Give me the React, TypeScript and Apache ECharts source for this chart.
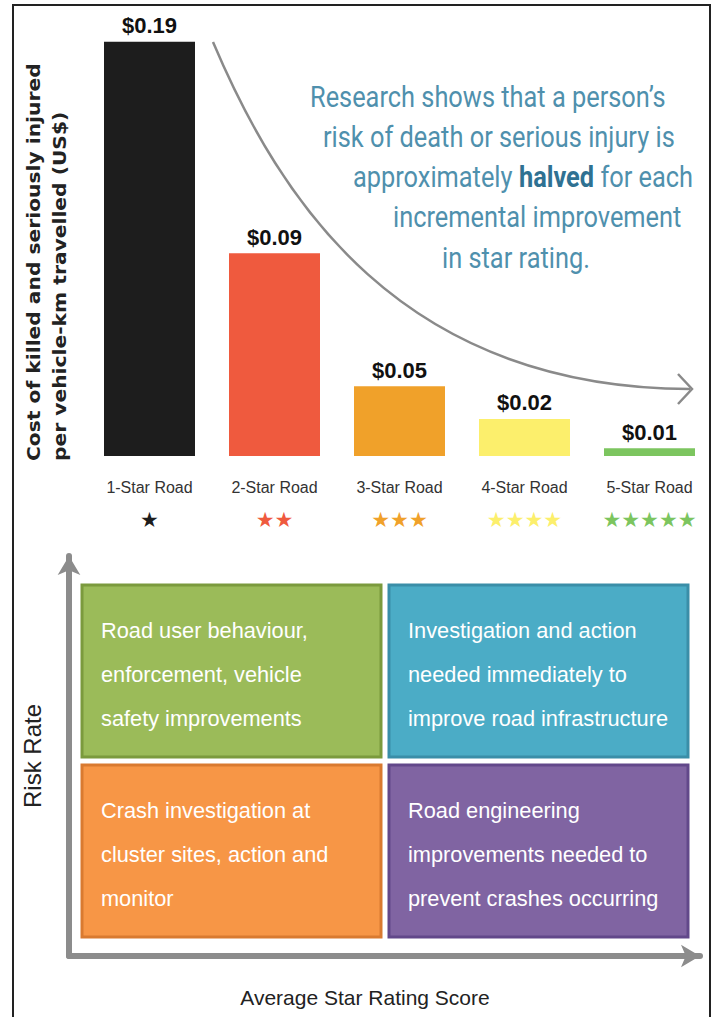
import React, { useEffect, useRef } from 'react';
import * as echarts from 'echarts';

// ---- Data -------------------------------------------------------------
const roadCategories = ['1-Star Road', '2-Star Road', '3-Star Road', '4-Star Road', '5-Star Road'];
// values printed above the bars (US$ per vehicle-km)
const costPerVkt = [0.19, 0.09, 0.05, 0.02, 0.01];
// bar heights as drawn in the infographic (not to scale with the printed values)
const drawnBarHeights = [0.19, 0.093, 0.032, 0.017, 0.0035];
const starCounts = [1, 2, 3, 4, 5];
const barColors = ['#1d1d1d', '#ef5a3e', '#f0a12a', '#fcef6c', '#7cc55f'];

const yTitleLines = ['Cost of killed and seriously injured', 'per vehicle-km travelled (US$)'];
const annotationLines = [
  'Research shows that a person\u2019s',
  'risk of death or serious injury is',
  'approximately {b|halved} for each',
  'incremental improvement',
  'in star rating.',
];

const matrixXName = 'Average Star Rating Score';
const matrixYName = 'Risk Rate';
const matrixCols = [0, 1, 0, 1];
const matrixRows = [1, 1, 0, 0];
const matrixTexts = [
  'Road user behaviour,\nenforcement, vehicle\nsafety improvements',
  'Investigation and action\nneeded immediately to\nimprove road infrastructure',
  'Crash investigation at\ncluster sites, action and\nmonitor',
  'Road engineering\nimprovements needed to\nprevent crashes occurring',
];
const matrixFills = ['#9bbb59', '#4bacc6', '#f79646', '#8064a2'];
const matrixBorders = ['#7b9a3d', '#3a8ea8', '#d97a30', '#62488a'];

// ---- Layout helpers ---------------------------------------------------
function makeMeasure() {
  const ctx = document.createElement('canvas').getContext('2d') as CanvasRenderingContext2D;
  return (text: string, font: string) => {
    ctx.font = font;
    return ctx.measureText(text).width;
  };
}

export default function App() {
  const ref = useRef<HTMLDivElement>(null);

  useEffect(() => {
    if (!ref.current) return;
    const chart = echarts.init(ref.current, null, { renderer: 'svg' });
    const measure = makeMeasure();

    const annoFont = 30;
    const annoFamily = 'Roboto';
    const annoScale = 356 / measure(annotationLines[0], `${annoFont}px ${annoFamily}`);
    const annoX = [310, 323, 353, 393, 442];
    const annoY = [97, 137, 177, 217, 258];

    const yTitleFamily = 'DejaVu Sans';
    const yTitleSize = 17;
    const yTitleScale = 398 / measure(yTitleLines[0], `bold ${yTitleSize}px "${yTitleFamily}"`);

    const qFont = 23;
    const qFamily = 'Liberation Sans';
    const qScale = 207 / measure('Road user behaviour,', `${qFont}px "${qFamily}"`);

    const richStars: Record<string, any> = {
      name: { fontSize: 16, fontFamily: 'Liberation Sans', color: '#333', lineHeight: 22 },
    };
    barColors.forEach((c, i) => {
      richStars['s' + i] = { fontSize: 21, fontFamily: 'DejaVu Sans', color: c, lineHeight: 44 };
    });

    const graphics: any[] = [
      {
        type: 'polyline',
        silent: true,
        shape: { points: [[13, 1017], [13, 5], [710, 5], [710, 1017]] },
        style: { stroke: '#222', lineWidth: 2, fill: null },
      },
      {
        type: 'bezierCurve',
        silent: true,
        shape: { x1: 213, y1: 42, cpx1: 280, cpy1: 200, cpx2: 400, cpy2: 388, x2: 690, y2: 389 },
        style: { stroke: '#8a8a8a', lineWidth: 2.5, fill: null },
      },
      {
        type: 'polyline',
        silent: true,
        shape: { points: [[678, 374], [692, 389], [678, 404]] },
        style: { stroke: '#8a8a8a', lineWidth: 2.5, fill: null },
      },
    ];
    annotationLines.forEach((line, i) => {
      graphics.push({
        type: 'text',
        silent: true,
        x: annoX[i],
        y: annoY[i],
        scaleX: annoScale,
        style: {
          text: line,
          fontSize: annoFont,
          fontFamily: annoFamily,
          fill: '#4f90ad',
          align: 'left',
          verticalAlign: 'middle',
          rich: { b: { fontSize: annoFont, fontFamily: annoFamily, fontWeight: 'bold', fill: '#2f7192' } },
        },
      });
    });
    const yTitleX = [34, 60];
    yTitleLines.forEach((line, i) => {
      graphics.push({
        type: 'text',
        silent: true,
        x: yTitleX[i],
        y: 461,
        rotation: Math.PI / 2,
        scaleX: yTitleScale,
        style: {
          text: line,
          fontSize: yTitleSize,
          fontFamily: yTitleFamily,
          fontWeight: 'bold',
          fill: '#222',
          align: 'left',
          verticalAlign: 'middle',
        },
      });
    });

    const option: any = {
      animation: false,
      backgroundColor: '#ffffff',
      grid: [
        { left: 87, width: 625, top: 20, height: 436 },
        { left: 69, right: 16, top: 556, bottom: 61 },
        { left: 78, right: 24, top: 581, bottom: 76 },
      ],
      xAxis: [
        {
          gridIndex: 0,
          type: 'category',
          data: roadCategories,
          axisLine: { show: false },
          axisTick: { show: false },
          axisLabel: {
            margin: 20,
            interval: 0,
            formatter: (v: string, i: number) => `{name|${v}}\n{s${i}|${'\u2605'.repeat(starCounts[i])}}`,
            rich: richStars,
          },
        },
        {
          gridIndex: 1,
          type: 'value',
          min: 0,
          max: 1,
          name: matrixXName,
          nameLocation: 'middle',
          nameGap: 31,
          nameTextStyle: { fontSize: 21, fontFamily: 'Liberation Sans', color: '#222', padding: [0, 39, 0, 0] },
          axisLine: {
            show: true,
            onZero: false,
            symbol: ['none', 'arrow'],
            symbolSize: [17, 19],
            lineStyle: { color: '#8c8c8c', width: 6 },
          },
          axisTick: { show: false },
          axisLabel: { show: false },
          splitLine: { show: false },
        },
        { gridIndex: 2, type: 'category', data: ['lower', 'higher'], show: false },
      ],
      yAxis: [
        { gridIndex: 0, type: 'value', min: 0, max: 0.2, show: false },
        {
          gridIndex: 1,
          type: 'value',
          min: 0,
          max: 1,
          name: matrixYName,
          nameLocation: 'middle',
          nameRotate: 90,
          nameGap: 25,
          nameTextStyle: { fontSize: 24, fontFamily: 'Liberation Sans', color: '#222' },
          axisLine: {
            show: true,
            onZero: false,
            symbol: ['none', 'arrow'],
            symbolSize: [17, 19],
            lineStyle: { color: '#8c8c8c', width: 6 },
          },
          axisTick: { show: false },
          axisLabel: { show: false },
          splitLine: { show: false },
        },
        { gridIndex: 2, type: 'category', data: ['lower', 'higher'], show: false },
      ],
      series: [
        {
          type: 'bar',
          xAxisIndex: 0,
          yAxisIndex: 0,
          barWidth: 91,
          data: drawnBarHeights.map((v, i) => ({ value: v, itemStyle: { color: barColors[i] } })),
          label: {
            show: true,
            position: 'top',
            distance: 5,
            formatter: (p: any) => '$' + costPerVkt[p.dataIndex].toFixed(2),
            fontFamily: 'Liberation Sans',
            fontWeight: 'bold',
            fontSize: 22,
            color: '#111',
          },
          silent: true,
        },
        {
          type: 'custom',
          xAxisIndex: 2,
          yAxisIndex: 2,
          silent: true,
          data: matrixCols.map((c, i) => [c, matrixRows[i]]),
          renderItem: (params: any, api: any) => {
            const idx = params.dataIndex;
            const c = api.coord([api.value(0), api.value(1)]);
            const s = api.size([1, 1]);
            const x0 = c[0] - s[0] / 2 + 4;
            const y0 = c[1] - s[1] / 2 + 4;
            const w = s[0] - 8;
            const h = s[1] - 8;
            return {
              type: 'group',
              children: [
                {
                  type: 'rect',
                  shape: { x: x0, y: y0, width: w, height: h },
                  style: { fill: matrixFills[idx], stroke: matrixBorders[idx], lineWidth: 3 },
                },
                {
                  type: 'text',
                  x: x0 + 19,
                  y: y0 + h / 2 + 3,
                  scaleX: qScale,
                  style: {
                    text: matrixTexts[idx],
                    fill: '#ffffff',
                    fontSize: qFont,
                    fontFamily: qFamily,
                    align: 'left',
                    verticalAlign: 'middle',
                    lineHeight: 44,
                  },
                },
              ],
            };
          },
        },
      ],
      graphic: graphics,
    };

    chart.setOption(option);
    return () => chart.dispose();
  }, []);

  return (
    <div
      ref={ref}
      style={{ position: 'absolute', left: 0, top: 0, width: 716, height: 1017, background: '#fff' }}
    />
  );
}
